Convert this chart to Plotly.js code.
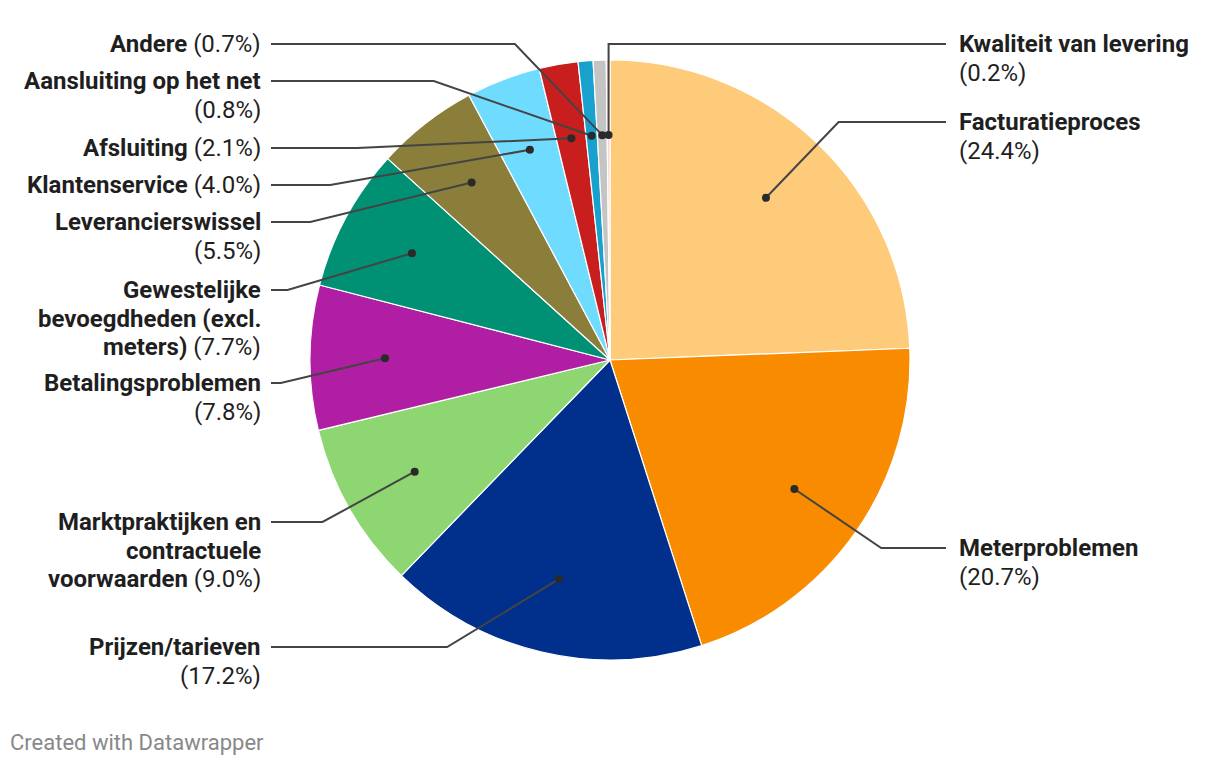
<!DOCTYPE html>
<html>
<head>
<meta charset="utf-8">
<script src="https://cdn.plot.ly/plotly-3.0.1.min.js"></script>
<style>
html, body { margin: 0; padding: 0; background: #fff; }
#chart { width: 1220px; height: 766px; }
</style>
</head>
<body>
<div id="chart"></div>
<script>
// data, clockwise from 12 o'clock
const categories = [
  "Facturatieproces", "Meterproblemen", "Prijzen/tarieven",
  "Marktpraktijken en contractuele voorwaarden", "Betalingsproblemen",
  "Gewestelijke bevoegdheden (excl. meters)", "Leverancierswissel",
  "Klantenservice", "Afsluiting", "Aansluiting op het net", "Andere",
  "Kwaliteit van levering"
]
const shares = [24.4, 20.7, 17.2, 9.0, 7.8, 7.7, 5.5, 4.0, 2.1, 0.8, 0.7, 0.2]
// label name with manual line breaks (pct gets appended)
const labelNames = [
  "Facturatieproces<br>", "Meterproblemen<br>", "Prijzen/tarieven<br>",
  "Marktpraktijken en<br>contractuele<br>voorwaarden ", "Betalingsproblemen<br>",
  "Gewestelijke<br>bevoegdheden (excl.<br>meters) ", "Leverancierswissel<br>",
  "Klantenservice ", "Afsluiting ", "Aansluiting op het net<br>", "Andere ",
  "Kwaliteit van levering<br>"
]
const colors = [
  "#fecb7b", "#f88b00", "#00308b", "#8ed672", "#b01fa3", "#009175",
  "#8b7e3a", "#6fdbff", "#c81e1e", "#18a1cd", "#c4c4c4", "#fad3d3"
]

// label layout (pixel space)
const labelSide = ["r", "r", "l", "l", "l", "l", "l", "l", "l", "l", "l", "r"]
const labelY = [122, 548, 647, 522, 383, 290, 222, 185, 148, 81, 44, 44]

const W = 1220, H = 766
const cx = 610, cy = 360, R = 300
const dotR = R * 0.75, elbowR = R * 1.1
const leftLineX = 271, rightLineX = 946
const leftTextX = 263, rightTextX = 957
const fontSize = 24
const lineGap = 28.6
const ink = "#1f1f1f"

const total = shares.reduce((a, b) => a + b, 0)
const shapes = []
const annotations = []
let cum = 0
shares.forEach((v, i) => {
  const mid = (cum + v / 2) / total * 2 * Math.PI
  cum += v
  const px = cx + dotR * Math.sin(mid)
  const py = cy - dotR * Math.cos(mid)
  const ly = labelY[i]
  const dy = ly - cy
  const dx = Math.sqrt(Math.max(0, elbowR * elbowR - dy * dy))
  const left = labelSide[i] === "l"
  let ex = left ? cx - dx : cx + dx
  if (!left && ex > px && Math.abs(dy) > elbowR * 0.95) ex = px  // near-vertical leader
  const endX = left ? leftLineX : rightLineX
  shapes.push({
    type: "path", xref: "x", yref: "y", layer: "above",
    path: `M ${px},${py} L ${ex},${ly} L ${endX},${ly}`,
    line: {color: "#444", width: 2}
  })
  shapes.push({
    type: "circle", xref: "x", yref: "y", layer: "above",
    x0: px - 4, x1: px + 4, y0: py - 4, y1: py + 4,
    fillcolor: "#2a2a2a", line: {width: 0}
  })
  // one annotation per text line so the line gap matches
  const parts = labelNames[i].split("<br>")
  const pct = `(${v.toFixed(1)}%)`
  const lines = parts.map(s => s.trim() ? `<b>${s.trim()}</b>` : "")
  const last = lines.length - 1
  lines[last] = lines[last] ? lines[last] + " " + pct : pct
  lines.forEach((t, k) => {
    annotations.push({
      xref: "x", yref: "y",
      x: left ? leftTextX : rightTextX,
      y: ly + k * lineGap,
      xanchor: left ? "right" : "left",
      yanchor: "middle",
      showarrow: false,
      text: t,
      font: {family: "Roboto", size: fontSize, color: ink}
    })
  })
})

annotations.push({
  xref: "x", yref: "y", x: 8, y: 742, xanchor: "left", yanchor: "middle",
  showarrow: false, text: "Created with Datawrapper",
  font: {family: "Roboto", size: 22, color: "#888"}
})

const data = [
  {
    type: "pie",
    labels: categories,
    values: shares,
    sort: false,
    direction: "clockwise",
    rotation: 0,
    textinfo: "none",
    hoverinfo: "label+percent",
    marker: {colors: colors, line: {color: "#fff", width: 1.2}},
    domain: {x: [(cx - R) / W, (cx + R) / W], y: [(H - cy - R) / H, (H - cy + R) / H]},
    showlegend: false
  },
  {type: "scatter", x: [], y: [], hoverinfo: "skip", showlegend: false}
]

const layout = {
  width: W,
  height: H,
  margin: {l: 0, r: 0, t: 0, b: 0},
  paper_bgcolor: "#fff",
  plot_bgcolor: "rgba(0,0,0,0)",
  showlegend: false,
  xaxis: {range: [0, W], visible: false, fixedrange: true},
  yaxis: {range: [H, 0], visible: false, fixedrange: true},
  shapes: shapes,
  annotations: annotations,
  font: {family: "Roboto"}
}

Plotly.newPlot("chart", data, layout, {displayModeBar: false, staticPlot: true})
</script>
</body>
</html>
